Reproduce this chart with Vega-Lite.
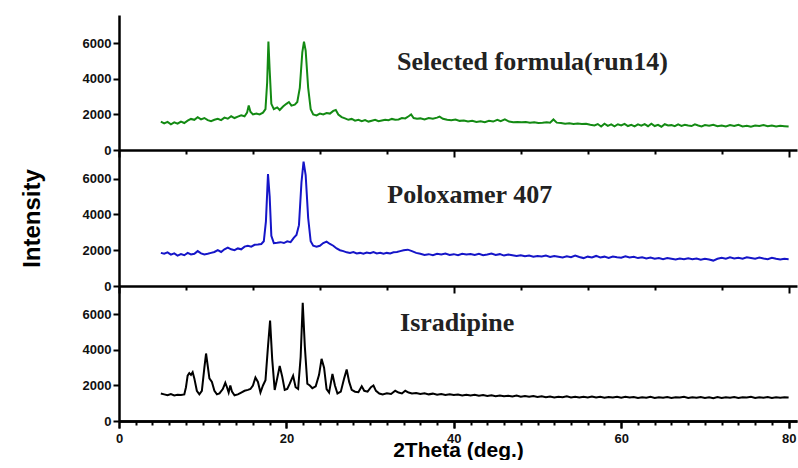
{
  "$schema": "https://vega.github.io/schema/vega-lite/v6.json",
  "background": "white",
  "padding": {"left": 20, "top": 15, "right": 1, "bottom": 0},
  "bounds": "flush",
  "spacing": 0,
  "config": {
    "view": {"stroke": null},
    "axis": {"grid": false, "domainColor": "#000", "domainWidth": 2.5, "tickColor": "#000", "tickWidth": 2, "labelFont": "Liberation Sans", "labelFontWeight": "bold", "labelFontSize": 13, "labelColor": "#111", "titleFont": "Liberation Sans", "titleFontWeight": "bold", "titleColor": "#000", "labelFlush": false, "labelOverlap": false}
  },
  "datasets": {
    "formula": [
      {"x":5.0,"y":1600},{"x":5.4,"y":1500},{"x":5.8,"y":1580},{"x":6.2,"y":1450},{"x":6.6,"y":1560},{"x":7.0,"y":1480},{"x":7.4,"y":1600},{"x":7.8,"y":1520},{"x":8.2,"y":1650},{"x":8.6,"y":1750},{"x":9.0,"y":1700},{"x":9.4,"y":1850},{"x":9.8,"y":1720},{"x":10.2,"y":1800},{"x":10.6,"y":1680},{"x":11.0,"y":1620},{"x":11.4,"y":1700},{"x":11.8,"y":1760},{"x":12.2,"y":1680},{"x":12.6,"y":1820},{"x":13.0,"y":1760},{"x":13.4,"y":1900},{"x":13.8,"y":1800},{"x":14.2,"y":1880},{"x":14.6,"y":1950},{"x":15.0,"y":1900},{"x":15.3,"y":2100},{"x":15.5,"y":2500},{"x":15.7,"y":2150},{"x":16.0,"y":2000},{"x":16.4,"y":2050},{"x":16.8,"y":2000},{"x":17.2,"y":2100},{"x":17.5,"y":2300},{"x":17.7,"y":3800},{"x":17.85,"y":6100},{"x":18.0,"y":4500},{"x":18.2,"y":2600},{"x":18.5,"y":2300},{"x":18.9,"y":2400},{"x":19.2,"y":2250},{"x":19.6,"y":2450},{"x":20.0,"y":2600},{"x":20.3,"y":2700},{"x":20.6,"y":2500},{"x":21.0,"y":2550},{"x":21.3,"y":2700},{"x":21.6,"y":3500},{"x":21.9,"y":5500},{"x":22.1,"y":6100},{"x":22.3,"y":5600},{"x":22.6,"y":3500},{"x":22.9,"y":2300},{"x":23.2,"y":2000},{"x":23.6,"y":1950},{"x":24.0,"y":2050},{"x":24.4,"y":2000},{"x":24.8,"y":2080},{"x":25.2,"y":2050},{"x":25.6,"y":2200},{"x":25.9,"y":2250},{"x":26.2,"y":2000},{"x":26.6,"y":1850},{"x":27.0,"y":1780},{"x":27.4,"y":1700},{"x":27.8,"y":1750},{"x":28.2,"y":1650},{"x":28.6,"y":1700},{"x":29.0,"y":1620},{"x":29.4,"y":1680},{"x":29.8,"y":1600},{"x":30.2,"y":1650},{"x":30.6,"y":1700},{"x":31.0,"y":1620},{"x":31.4,"y":1660},{"x":31.8,"y":1700},{"x":32.2,"y":1680},{"x":32.6,"y":1750},{"x":33.0,"y":1700},{"x":33.4,"y":1720},{"x":33.8,"y":1800},{"x":34.2,"y":1780},{"x":34.6,"y":1900},{"x":34.9,"y":2000},{"x":35.2,"y":1800},{"x":35.6,"y":1760},
      {"x":36.0,"y":1780},{"x":36.5,"y":1720},{"x":37.0,"y":1800},{"x":37.5,"y":1760},{"x":38.0,"y":1820},{"x":38.3,"y":1880},{"x":38.7,"y":1760},{"x":39.2,"y":1700},{"x":39.7,"y":1680},{"x":40.2,"y":1720},{"x":40.7,"y":1640},{"x":41.2,"y":1660},{"x":41.7,"y":1600},{"x":42.2,"y":1640},{"x":42.7,"y":1580},{"x":43.2,"y":1620},{"x":43.7,"y":1560},{"x":44.2,"y":1640},{"x":44.7,"y":1600},{"x":45.2,"y":1700},{"x":45.6,"y":1620},{"x":46.1,"y":1720},{"x":46.6,"y":1600},{"x":47.1,"y":1560},{"x":47.6,"y":1580},{"x":48.1,"y":1560},{"x":48.6,"y":1570},{"x":49.1,"y":1540},{"x":49.6,"y":1560},{"x":50.1,"y":1520},{"x":50.6,"y":1530},{"x":51.1,"y":1560},{"x":51.5,"y":1540},{"x":51.9,"y":1720},{"x":52.3,"y":1540},{"x":52.8,"y":1520},{"x":53.3,"y":1480},{"x":53.8,"y":1500},{"x":54.3,"y":1470},{"x":54.8,"y":1490},{"x":55.3,"y":1460},{"x":55.8,"y":1480},{"x":56.3,"y":1420},{"x":56.8,"y":1380},{"x":57.2,"y":1460},{"x":57.6,"y":1320},{"x":58.0,"y":1480},{"x":58.4,"y":1360},{"x":58.8,"y":1440},{"x":59.2,"y":1330},{"x":59.6,"y":1450},{"x":60.0,"y":1380},{"x":60.4,"y":1470},{"x":60.8,"y":1350},{"x":61.2,"y":1420},{"x":61.6,"y":1330},{"x":62.0,"y":1440},{"x":62.4,"y":1370},{"x":62.8,"y":1460},{"x":63.2,"y":1340},{"x":63.6,"y":1480},{"x":64.0,"y":1350},{"x":64.4,"y":1420},{"x":64.8,"y":1310},{"x":65.2,"y":1450},{"x":65.6,"y":1380},{"x":66.0,"y":1400},{"x":66.4,"y":1340},{"x":66.8,"y":1440},{"x":67.2,"y":1360},{"x":67.6,"y":1420},{"x":68.0,"y":1380},{"x":68.4,"y":1350},{"x":68.8,"y":1450},{"x":69.2,"y":1380},{"x":69.6,"y":1330},{"x":70.0,"y":1400},{"x":70.5,"y":1360},{"x":71.0,"y":1420},{"x":71.5,"y":1340},{"x":72.0,"y":1380},{"x":72.5,"y":1320},{"x":73.0,"y":1400},{"x":73.5,"y":1350},{"x":74.0,"y":1420},{"x":74.5,"y":1330},{"x":75.0,"y":1370},{"x":75.5,"y":1310},{"x":76.0,"y":1380},{"x":76.5,"y":1350},{"x":77.0,"y":1400},{"x":77.5,"y":1340},{"x":78.0,"y":1380},{"x":78.5,"y":1330},{"x":79.0,"y":1360},{"x":79.5,"y":1340},{"x":80.0,"y":1320}
    ],
    "poloxamer": [
      {"x":5.0,"y":1850},{"x":5.4,"y":1800},{"x":5.8,"y":1880},{"x":6.2,"y":1750},{"x":6.6,"y":1820},{"x":7.0,"y":1700},{"x":7.4,"y":1780},{"x":7.8,"y":1720},{"x":8.2,"y":1850},{"x":8.6,"y":1760},{"x":9.0,"y":1800},{"x":9.4,"y":1950},{"x":9.8,"y":1820},{"x":10.2,"y":1760},{"x":10.6,"y":1800},{"x":11.0,"y":1850},{"x":11.4,"y":1900},{"x":11.8,"y":2000},{"x":12.2,"y":1900},{"x":12.6,"y":2050},{"x":13.0,"y":2150},{"x":13.4,"y":2050},{"x":13.8,"y":2000},{"x":14.2,"y":2100},{"x":14.6,"y":2050},{"x":15.0,"y":2200},{"x":15.4,"y":2250},{"x":15.8,"y":2200},{"x":16.2,"y":2300},{"x":16.6,"y":2320},{"x":17.0,"y":2350},{"x":17.3,"y":2500},{"x":17.55,"y":3600},{"x":17.8,"y":6250},{"x":18.0,"y":5000},{"x":18.2,"y":2800},{"x":18.5,"y":2400},{"x":18.9,"y":2420},{"x":19.3,"y":2450},{"x":19.7,"y":2400},{"x":20.1,"y":2500},{"x":20.5,"y":2450},{"x":20.9,"y":2700},{"x":21.2,"y":2850},{"x":21.5,"y":3400},{"x":21.8,"y":5800},{"x":22.05,"y":6950},{"x":22.3,"y":6200},{"x":22.6,"y":3800},{"x":22.9,"y":2500},{"x":23.2,"y":2250},{"x":23.6,"y":2200},{"x":24.0,"y":2250},{"x":24.4,"y":2400},{"x":24.8,"y":2480},{"x":25.2,"y":2350},{"x":25.6,"y":2250},{"x":26.0,"y":2100},{"x":26.4,"y":2000},{"x":26.8,"y":1950},{"x":27.2,"y":1880},{"x":27.6,"y":1850},{"x":28.0,"y":1900},{"x":28.4,"y":1820},{"x":28.8,"y":1850},{"x":29.2,"y":1800},{"x":29.6,"y":1870},{"x":30.0,"y":1830},{"x":30.4,"y":1900},{"x":30.8,"y":1820},{"x":31.2,"y":1860},{"x":31.6,"y":1800},{"x":32.0,"y":1850},{"x":32.4,"y":1820},{"x":32.8,"y":1880},{"x":33.2,"y":1900},{"x":33.6,"y":1950},{"x":34.0,"y":2000},{"x":34.5,"y":2030},{"x":35.0,"y":1950},{"x":35.5,"y":1850},
      {"x":36.0,"y":1800},{"x":36.5,"y":1740},{"x":37.0,"y":1780},{"x":37.5,"y":1720},{"x":38.0,"y":1800},{"x":38.5,"y":1760},{"x":39.0,"y":1820},{"x":39.5,"y":1740},{"x":40.0,"y":1780},{"x":40.5,"y":1720},{"x":41.0,"y":1800},{"x":41.5,"y":1760},{"x":42.0,"y":1790},{"x":42.5,"y":1730},{"x":43.0,"y":1800},{"x":43.5,"y":1720},{"x":44.0,"y":1760},{"x":44.5,"y":1820},{"x":45.0,"y":1740},{"x":45.5,"y":1780},{"x":46.0,"y":1700},{"x":46.5,"y":1760},{"x":47.0,"y":1720},{"x":47.5,"y":1680},{"x":48.0,"y":1720},{"x":48.5,"y":1660},{"x":49.0,"y":1700},{"x":49.5,"y":1640},{"x":50.0,"y":1680},{"x":50.5,"y":1650},{"x":51.0,"y":1700},{"x":51.5,"y":1620},{"x":52.0,"y":1680},{"x":52.5,"y":1640},{"x":53.0,"y":1600},{"x":53.5,"y":1660},{"x":54.0,"y":1610},{"x":54.5,"y":1700},{"x":55.0,"y":1620},{"x":55.5,"y":1560},{"x":56.0,"y":1640},{"x":56.5,"y":1600},{"x":57.0,"y":1680},{"x":57.5,"y":1590},{"x":58.0,"y":1640},{"x":58.5,"y":1570},{"x":59.0,"y":1650},{"x":59.5,"y":1610},{"x":60.0,"y":1580},{"x":60.5,"y":1660},{"x":61.0,"y":1590},{"x":61.5,"y":1630},{"x":62.0,"y":1560},{"x":62.5,"y":1600},{"x":63.0,"y":1540},{"x":63.5,"y":1590},{"x":64.0,"y":1520},{"x":64.5,"y":1560},{"x":65.0,"y":1500},{"x":65.5,"y":1560},{"x":66.0,"y":1520},{"x":66.5,"y":1480},{"x":67.0,"y":1540},{"x":67.5,"y":1500},{"x":68.0,"y":1550},{"x":68.5,"y":1490},{"x":69.0,"y":1530},{"x":69.5,"y":1470},{"x":70.0,"y":1520},{"x":70.5,"y":1480},{"x":71.0,"y":1420},{"x":71.5,"y":1520},{"x":72.0,"y":1580},{"x":72.5,"y":1520},{"x":73.0,"y":1600},{"x":73.5,"y":1540},{"x":74.0,"y":1580},{"x":74.5,"y":1520},{"x":75.0,"y":1600},{"x":75.5,"y":1560},{"x":76.0,"y":1520},{"x":76.5,"y":1590},{"x":77.0,"y":1540},{"x":77.5,"y":1500},{"x":78.0,"y":1580},{"x":78.5,"y":1520},{"x":79.0,"y":1480},{"x":79.5,"y":1520},{"x":80.0,"y":1500}
    ],
    "isradipine": [
      {"x":5.0,"y":1550},{"x":5.4,"y":1500},{"x":5.8,"y":1450},{"x":6.2,"y":1520},{"x":6.6,"y":1440},{"x":7.0,"y":1480},{"x":7.4,"y":1460},{"x":7.8,"y":1500},{"x":8.0,"y":1900},{"x":8.2,"y":2550},{"x":8.4,"y":2700},{"x":8.6,"y":2600},{"x":8.8,"y":2750},{"x":9.0,"y":2400},{"x":9.3,"y":1700},{"x":9.6,"y":1500},{"x":9.9,"y":1700},{"x":10.2,"y":3000},{"x":10.4,"y":3800},{"x":10.6,"y":3100},{"x":10.8,"y":2400},{"x":11.1,"y":2200},{"x":11.4,"y":1700},{"x":11.7,"y":1500},{"x":12.0,"y":1550},{"x":12.4,"y":1800},{"x":12.7,"y":2150},{"x":12.9,"y":1900},{"x":13.1,"y":1600},{"x":13.3,"y":2000},{"x":13.5,"y":1650},{"x":13.8,"y":1450},{"x":14.2,"y":1500},{"x":14.6,"y":1600},{"x":15.0,"y":1700},{"x":15.4,"y":1750},{"x":15.7,"y":1800},{"x":16.0,"y":2000},{"x":16.3,"y":2450},{"x":16.6,"y":2200},{"x":16.9,"y":1600},{"x":17.2,"y":2000},{"x":17.5,"y":2300},{"x":17.8,"y":4200},{"x":18.05,"y":5650},{"x":18.3,"y":3500},{"x":18.6,"y":1750},{"x":18.9,"y":2400},{"x":19.2,"y":3100},{"x":19.5,"y":2500},{"x":19.8,"y":1750},{"x":20.1,"y":1800},{"x":20.4,"y":2100},{"x":20.8,"y":2550},{"x":21.1,"y":1900},{"x":21.4,"y":1800},{"x":21.7,"y":3600},{"x":21.95,"y":6650},{"x":22.2,"y":4200},{"x":22.5,"y":2100},{"x":22.8,"y":2000},{"x":23.1,"y":1850},{"x":23.5,"y":1950},{"x":23.9,"y":2600},{"x":24.2,"y":3500},{"x":24.5,"y":3000},{"x":24.8,"y":1800},{"x":25.1,"y":1600},{"x":25.5,"y":2650},{"x":25.8,"y":2000},{"x":26.1,"y":1550},{"x":26.5,"y":1650},{"x":26.9,"y":2400},{"x":27.2,"y":2900},{"x":27.5,"y":2200},{"x":27.8,"y":1750},{"x":28.2,"y":1650},{"x":28.6,"y":1620},{"x":29.0,"y":1950},{"x":29.3,"y":1700},{"x":29.7,"y":1650},{"x":30.1,"y":1900},{"x":30.4,"y":2000},{"x":30.7,"y":1700},{"x":31.1,"y":1550},{"x":31.5,"y":1500},{"x":32.0,"y":1560},{"x":32.5,"y":1520},{"x":33.0,"y":1700},{"x":33.4,"y":1600},{"x":33.8,"y":1550},{"x":34.2,"y":1700},{"x":34.6,"y":1600},{"x":35.0,"y":1550},
      {"x":35.5,"y":1580},{"x":36.0,"y":1520},{"x":36.5,"y":1560},{"x":37.0,"y":1500},{"x":37.5,"y":1540},{"x":38.0,"y":1480},{"x":38.5,"y":1520},{"x":39.0,"y":1470},{"x":39.5,"y":1500},{"x":40.0,"y":1460},{"x":40.5,"y":1490},{"x":41.0,"y":1440},{"x":41.5,"y":1480},{"x":42.0,"y":1430},{"x":42.5,"y":1470},{"x":43.0,"y":1420},{"x":43.5,"y":1460},{"x":44.0,"y":1410},{"x":44.5,"y":1450},{"x":45.0,"y":1400},{"x":45.5,"y":1440},{"x":46.0,"y":1390},{"x":46.5,"y":1420},{"x":47.0,"y":1380},{"x":47.5,"y":1430},{"x":48.0,"y":1370},{"x":48.5,"y":1410},{"x":49.0,"y":1360},{"x":49.5,"y":1400},{"x":50.0,"y":1350},{"x":50.5,"y":1390},{"x":51.0,"y":1340},{"x":51.5,"y":1380},{"x":52.0,"y":1330},{"x":52.5,"y":1370},{"x":53.0,"y":1340},{"x":53.5,"y":1390},{"x":54.0,"y":1330},{"x":54.5,"y":1370},{"x":55.0,"y":1320},{"x":55.5,"y":1360},{"x":56.0,"y":1330},{"x":56.5,"y":1380},{"x":57.0,"y":1320},{"x":57.5,"y":1360},{"x":58.0,"y":1310},{"x":58.5,"y":1350},{"x":59.0,"y":1320},{"x":59.5,"y":1370},{"x":60.0,"y":1310},{"x":60.5,"y":1360},{"x":61.0,"y":1320},{"x":61.5,"y":1350},{"x":62.0,"y":1300},{"x":62.5,"y":1340},{"x":63.0,"y":1310},{"x":63.5,"y":1360},{"x":64.0,"y":1300},{"x":64.5,"y":1340},{"x":65.0,"y":1310},{"x":65.5,"y":1350},{"x":66.0,"y":1300},{"x":66.5,"y":1340},{"x":67.0,"y":1320},{"x":67.5,"y":1360},{"x":68.0,"y":1300},{"x":68.5,"y":1340},{"x":69.0,"y":1310},{"x":69.5,"y":1350},{"x":70.0,"y":1300},{"x":70.5,"y":1330},{"x":71.0,"y":1280},{"x":71.5,"y":1350},{"x":72.0,"y":1300},{"x":72.5,"y":1340},{"x":73.0,"y":1310},{"x":73.5,"y":1350},{"x":74.0,"y":1300},{"x":74.5,"y":1340},{"x":75.0,"y":1320},{"x":75.5,"y":1360},{"x":76.0,"y":1300},{"x":76.5,"y":1340},{"x":77.0,"y":1310},{"x":77.5,"y":1350},{"x":78.0,"y":1300},{"x":78.5,"y":1340},{"x":79.0,"y":1310},{"x":79.5,"y":1340},{"x":80.0,"y":1320}
    ]
  },
  "vconcat": [
    {
      "width": 678, "height": 135,
      "layer": [
        {
          "data": {"name": "formula"},
          "mark": {"type": "line", "color": "#138a13", "strokeWidth": 2},
          "encoding": {
            "x": {"field": "x", "type": "quantitative", "scale": {"domain": [0, 81], "nice": false},
                  "axis": {"values": [0,2,4,6,8,10,12,14,16,18,20,22,24,26,28,30,32,34,36,38,40,42,44,46,48,50,52,54,56,58,60,62,64,66,68,70,72,74,76,78,80], "labels": false, "title": null, "tickSize": {"condition": {"test": "datum.value % 20 === 0", "value": 7}, "value": 4}}},
            "y": {"field": "y", "type": "quantitative", "scale": {"domain": [0, 7600], "nice": false},
                  "axis": {"values": [0, 2000, 4000, 6000], "format": "d", "title": null, "tickSize": 6, "labelPadding": 2}}
          }
        },
        {
          "data": {"values": [{"label": "Selected formula(run14)", "x": 49.4, "y": 4940}]},
          "mark": {"type": "text", "font": "Liberation Serif", "fontWeight": "bold", "fontSize": 26, "align": "center", "baseline": "middle", "color": "#222"},
          "encoding": {"x": {"field": "x", "type": "quantitative"}, "y": {"field": "y", "type": "quantitative"}, "text": {"field": "label"}}
        }
      ]
    },
    {
      "width": 678, "height": 136,
      "layer": [
        {
          "data": {"name": "poloxamer"},
          "mark": {"type": "line", "color": "#1515c8", "strokeWidth": 2},
          "encoding": {
            "x": {"field": "x", "type": "quantitative", "scale": {"domain": [0, 81], "nice": false},
                  "axis": {"values": [0,2,4,6,8,10,12,14,16,18,20,22,24,26,28,30,32,34,36,38,40,42,44,46,48,50,52,54,56,58,60,62,64,66,68,70,72,74,76,78,80], "labels": false, "title": null, "tickSize": {"condition": {"test": "datum.value % 20 === 0", "value": 7}, "value": 4}}},
            "y": {"field": "y", "type": "quantitative", "scale": {"domain": [0, 7600], "nice": false},
                  "axis": {"values": [0, 2000, 4000, 6000], "format": "d", "title": "Intensity", "titleFontSize": 24, "titlePadding": 38, "tickSize": 6, "labelPadding": 2}}
          }
        },
        {
          "data": {"values": [{"label": "Poloxamer 407", "x": 41.9, "y": 5080}]},
          "mark": {"type": "text", "font": "Liberation Serif", "fontWeight": "bold", "fontSize": 26, "align": "center", "baseline": "middle", "color": "#222"},
          "encoding": {"x": {"field": "x", "type": "quantitative"}, "y": {"field": "y", "type": "quantitative"}, "text": {"field": "label"}}
        }
      ]
    },
    {
      "width": 678, "height": 135,
      "resolve": {"axis": {"x": "independent"}},
      "layer": [
        {
          "data": {"name": "isradipine"},
          "mark": {"type": "line", "color": "#000000", "strokeWidth": 2},
          "encoding": {
            "x": {"field": "x", "type": "quantitative", "scale": {"domain": [0, 81], "nice": false},
                  "axis": {"orient": "bottom", "values": [0,2,4,6,8,10,12,14,16,18,20,22,24,26,28,30,32,34,36,38,40,42,44,46,48,50,52,54,56,58,60,62,64,66,68,70,72,74,76,78,80], "labels": false, "title": null, "tickSize": {"condition": {"test": "datum.value % 20 === 0", "value": 7}, "value": 4}}},
            "y": {"field": "y", "type": "quantitative", "scale": {"domain": [0, 7600], "nice": false},
                  "axis": {"values": [0, 2000, 4000, 6000], "format": "d", "title": null, "tickSize": 6, "labelPadding": 2}}
          }
        },
        {
          "data": {"values": [{"label": "Isradipine", "x": 40.4, "y": 5500}]},
          "mark": {"type": "text", "font": "Liberation Serif", "fontWeight": "bold", "fontSize": 26, "align": "center", "baseline": "middle", "color": "#222"},
          "encoding": {
            "x": {"field": "x", "type": "quantitative", "axis": {"orient": "bottom", "values": [0, 20, 40, 60, 80], "format": "d", "labelOverlap": false, "labelFlush": false, "tickSize": 7, "labelPadding": 4, "title": "2Theta (deg.)", "titleFontSize": 21, "titlePadding": -6}},
            "y": {"field": "y", "type": "quantitative"},
            "text": {"field": "label"}
          }
        }
      ]
    }
  ]
}
